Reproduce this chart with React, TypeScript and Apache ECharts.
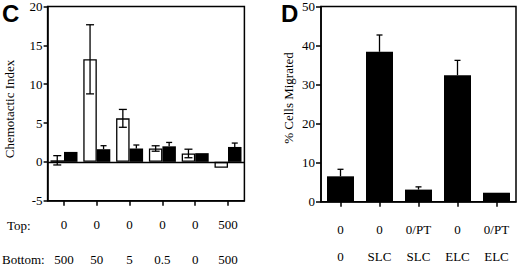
import React, { useEffect, useRef } from "react";
import * as echarts from "echarts";

// ---- Panel C data ----
const topC = ["0", "0", "0", "0", "0", "500"];
const bottomC = ["500", "50", "5", "0.5", "0", "500"];
const whiteC = [0.2, 13.2, 5.6, 1.72, 1.08, -0.75];
const whiteErrC = [0.6, 4.45, 1.15, 0.35, 0.55, 0];
const blackC = [1.28, 1.63, 1.72, 2.0, 1.12, 1.92];
const blackErrC = [0, 0.45, 0.45, 0.5, 0, 0.5];
const yTicksC = { min: -5, max: 20, interval: 5 };

// ---- Panel D data ----
const topD = ["0", "0", "0/PT", "0", "0/PT"];
const bottomD = ["0", "SLC", "SLC", "ELC", "ELC"];
const valuesD = [6.5, 38.4, 3.1, 32.4, 2.3];
const errD = [1.8, 4.3, 0.7, 3.8, 0];
const yTicksD = { min: 0, max: 50, interval: 10 };

const SERIF = "Liberation Serif";
const SANS = "Liberation Sans";
const BAR_C = 13.5;
const BAR_D = 27;

function errorSeries(
  axisIdx: number,
  means: number[],
  errs: number[],
  offset: number,
  both: boolean,
  capHalf: number
) {
  return {
    type: "custom",
    xAxisIndex: axisIdx,
    yAxisIndex: axisIdx === 0 ? 0 : 1,
    z: 5,
    silent: true,
    data: means.map((m, i) => [i, m, errs[i]]),
    renderItem: (_params: any, api: any) => {
      const i = api.value(0);
      const m = api.value(1);
      const e = api.value(2);
      if (!e) return { type: "group", children: [] };
      const top = api.coord([i, m + e]);
      const mid = api.coord([i, m]);
      const bot = api.coord([i, m - e]);
      const x = top[0] + offset;
      const y0 = both ? bot[1] : mid[1];
      const style = { stroke: "#000", lineWidth: 1.3 };
      const children: any[] = [
        { type: "line", shape: { x1: x, y1: y0, x2: x, y2: top[1] }, style },
        {
          type: "line",
          shape: { x1: x - capHalf, y1: top[1], x2: x + capHalf, y2: top[1] },
          style,
        },
      ];
      if (both) {
        children.push({
          type: "line",
          shape: { x1: x - capHalf, y1: bot[1], x2: x + capHalf, y2: bot[1] },
          style,
        });
      }
      return { type: "group", children };
    },
  };
}

const axisLineStyle = { color: "#000", width: 1.5 };
const labelBase = {
  color: "#000",
  fontFamily: SERIF,
  fontSize: 13,
  lineHeight: 10,
};

function catAxis(grid: number, labels: string[], margin: number, main: boolean) {
  return {
    gridIndex: grid,
    type: "category",
    position: "bottom",
    offset: 0,
    data: labels,
    axisLine: { show: main, onZero: false, lineStyle: axisLineStyle },
    axisTick: {
      show: main,
      alignWithLabel: true,
      length: 5,
      lineStyle: axisLineStyle,
    },
    axisLabel: { ...labelBase, interval: 0, margin },
  };
}

export default function App() {
  const ref = useRef<HTMLDivElement>(null);
  useEffect(() => {
    if (!ref.current) return;
    const chart = echarts.init(ref.current, undefined, { renderer: "svg" });
    const gridBase = {
      show: true,
      borderColor: "#000",
      borderWidth: 1.5,
      containLabel: false,
      outerBoundsMode: "none",
    };
    const option: any = {
      animation: false,
      backgroundColor: "#fff",
      textStyle: { fontFamily: SERIF },
      grid: [
        { ...gridBase, left: 47.6, top: 6.5, width: 196.8, height: 194.2 },
        { ...gridBase, left: 321, top: 6.5, width: 195, height: 195.2 },
      ],
      xAxis: [
        catAxis(0, topC, 19, true),
        catAxis(0, bottomC, 53.5, false),
        catAxis(1, topD, 23, true),
        catAxis(1, bottomD, 50, false),
      ],
      yAxis: [
        {
          gridIndex: 0,
          type: "value",
          ...yTicksC,
          axisLine: { show: true, onZero: false, lineStyle: axisLineStyle },
          axisTick: { show: true, length: 4, lineStyle: axisLineStyle },
          axisLabel: { ...labelBase, margin: 5 },
          splitLine: { show: false },
        },
        {
          gridIndex: 1,
          type: "value",
          ...yTicksD,
          axisLine: { show: true, onZero: false, lineStyle: axisLineStyle },
          axisTick: { show: true, length: 5, lineStyle: axisLineStyle },
          axisLabel: { ...labelBase, margin: 6 },
          splitLine: { show: false },
        },
      ],
      series: [
        {
          type: "bar",
          xAxisIndex: 0,
          yAxisIndex: 0,
          data: whiteC,
          barWidth: BAR_C,
          barGap: "0%",
          itemStyle: { color: "#fff", borderColor: "#000", borderWidth: 1.3 },
          markLine: {
            silent: true,
            symbol: "none",
            label: { show: false },
            lineStyle: { color: "#000", width: 1.3, type: "solid" },
            data: [{ yAxis: 0 }],
          },
        },
        {
          type: "bar",
          xAxisIndex: 0,
          yAxisIndex: 0,
          data: blackC,
          barWidth: BAR_C,
          barGap: "0%",
          itemStyle: { color: "#000" },
        },
        errorSeries(0, whiteC, whiteErrC, -BAR_C / 2, true, 4),
        errorSeries(0, blackC, blackErrC, BAR_C / 2, false, 3),
        {
          type: "bar",
          xAxisIndex: 2,
          yAxisIndex: 1,
          data: valuesD,
          barWidth: BAR_D,
          itemStyle: { color: "#000" },
        },
        errorSeries(2, valuesD, errD, 0, false, 3),
      ],
      graphic: [
        {
          type: "text",
          x: 2,
          y: 13,
          style: {
            text: "C",
            font: `bold 24px ${SANS}`,
            fill: "#000",
            textVerticalAlign: "middle",
          },
        },
        {
          type: "text",
          x: 281,
          y: 13.5,
          style: {
            text: "D",
            font: `bold 24px ${SANS}`,
            fill: "#000",
            textVerticalAlign: "middle",
          },
        },
        {
          type: "text",
          x: 9,
          y: 109,
          rotation: Math.PI / 2,
          style: {
            text: "Chemotactic Index",
            font: `13px ${SERIF}`,
            fill: "#000",
            textAlign: "center",
            textVerticalAlign: "middle",
          },
        },
        {
          type: "text",
          x: 288,
          y: 98,
          rotation: Math.PI / 2,
          style: {
            text: "% Cells Migrated",
            font: `13px ${SERIF}`,
            fill: "#000",
            textAlign: "center",
            textVerticalAlign: "middle",
          },
        },
        {
          type: "text",
          x: 7,
          y: 225,
          style: {
            text: "Top:",
            font: `13px ${SERIF}`,
            fill: "#000",
            textVerticalAlign: "middle",
          },
        },
        {
          type: "text",
          x: 2,
          y: 259,
          style: {
            text: "Bottom:",
            font: `13px ${SERIF}`,
            lineHeight: 10,
            fill: "#000",
            textVerticalAlign: "middle",
          },
        },
      ],
    };
    chart.setOption(option);
    return () => chart.dispose();
  }, []);
  return (
    <div
      ref={ref}
      style={{ position: "fixed", left: 0, top: 0, width: 520, height: 266 }}
    />
  );
}
